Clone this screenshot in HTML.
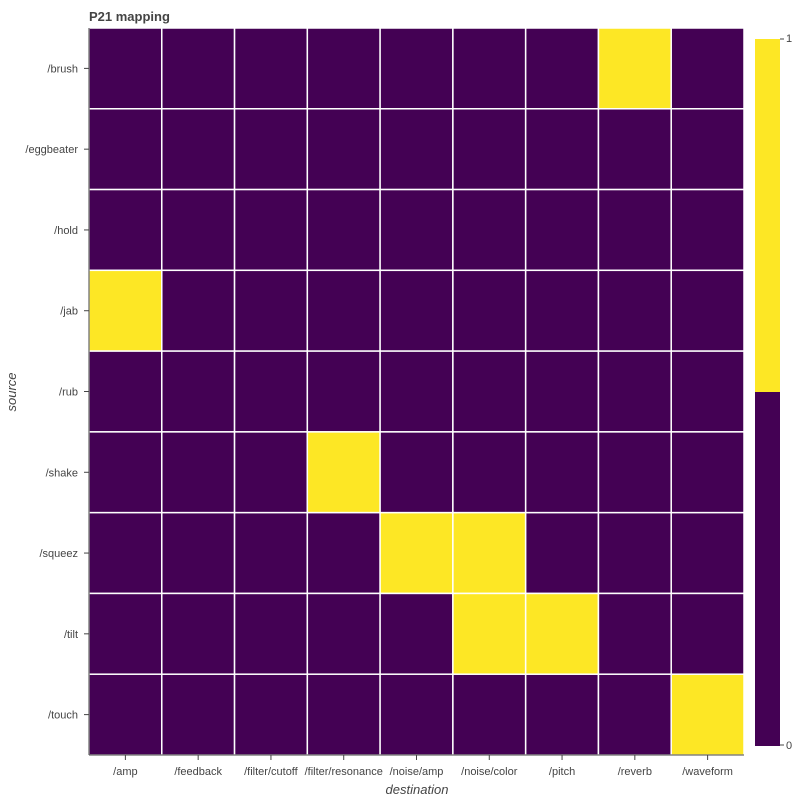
<!DOCTYPE html>
<html><head><meta charset="utf-8"><style>
body{margin:0;background:#fff;font-family:"Liberation Sans",sans-serif;}
svg text{font-family:"Liberation Sans",sans-serif;}
</style></head><body>
<svg id="chart" width="800" height="800" xmlns="http://www.w3.org/2000/svg">
<text x="89" y="21" font-size="13" font-weight="bold" fill="#444">P21 mapping</text>
<g id="cells"></g>
<g id="xticks"></g>
<g id="yticks"></g>
<text x="417" y="794" font-size="13" font-style="italic" text-anchor="middle" fill="#444">destination</text>
<text transform="translate(16,392) rotate(-90)" font-size="13" font-style="italic" text-anchor="middle" fill="#444">source</text>
<g>
<rect x="755" y="39" width="25" height="353" fill="#fde725"/>
<rect x="755" y="392" width="25" height="354" fill="#440154"/>
<line x1="780" y1="39" x2="784" y2="39" stroke="#444"/>
<line x1="780" y1="745" x2="784" y2="745" stroke="#444"/>
<text x="786" y="42" font-size="11" fill="#444">1</text>
<text x="786" y="749" font-size="11" fill="#444">0</text>
</g>
</svg>
<script>
const destinations=["/amp","/feedback","/filter/cutoff","/filter/resonance","/noise/amp","/noise/color","/pitch","/reverb","/waveform"];
const sources=["/brush","/eggbeater","/hold","/jab","/rub","/shake","/squeez","/tilt","/touch"];
const values=[
[0,0,0,0,0,0,0,1,0],
[0,0,0,0,0,0,0,0,0],
[0,0,0,0,0,0,0,0,0],
[1,0,0,0,0,0,0,0,0],
[0,0,0,0,0,0,0,0,0],
[0,0,0,1,0,0,0,0,0],
[0,0,0,0,1,1,0,0,0],
[0,0,0,0,0,1,1,0,0],
[0,0,0,0,0,0,0,0,1]];
const NS="http://www.w3.org/2000/svg";
const X0=89,X1=744,Y0=28,Y1=755;
const cw=(X1-X0)/destinations.length, ch=(Y1-Y0)/sources.length;
const xs=i=>X0+i*cw, ys=j=>Y0+j*ch;
const color=v=>v>=0.5?"#fde725":"#440154";
function mk(tag,attrs,parent){const e=document.createElementNS(NS,tag);for(const k in attrs)e.setAttribute(k,attrs[k]);parent.appendChild(e);return e;}
const cells=document.getElementById('cells');
values.forEach((row,j)=>row.forEach((v,i)=>{
  const r=mk('rect',{x:xs(i),y:ys(j),width:cw,height:ch,fill:color(v),stroke:"#fff","stroke-width":1.5},cells);
  
  
}));
const xt=document.getElementById('xticks');
const xl=mk('line',{x1:X0,y1:Y1,x2:X1,y2:Y1,stroke:"#444"},xt);


destinations.forEach((d,i)=>{
  const cx=xs(i)+cw/2;
  mk('line',{x1:cx,y1:Y1,x2:cx,y2:Y1+5,stroke:"#444"},xt);
  const t=mk('text',{x:cx,y:775,"font-size":11,"text-anchor":"middle",fill:"#444"},xt);
  t.textContent=d;
  
  
});
const yt=document.getElementById('yticks');
const yl=mk('line',{x1:X0,y1:Y0,x2:X0,y2:Y1,stroke:"#444"},yt);


sources.forEach((s,j)=>{
  const cy=ys(j)+ch/2;
  mk('line',{x1:X0-5,y1:cy,x2:X0,y2:cy,stroke:"#444"},yt);
  const t=mk('text',{x:X0-11,y:cy+4,"font-size":11,"text-anchor":"end",fill:"#444"},yt);
  t.textContent=s;
  
  
});
</script>
</body></html>
